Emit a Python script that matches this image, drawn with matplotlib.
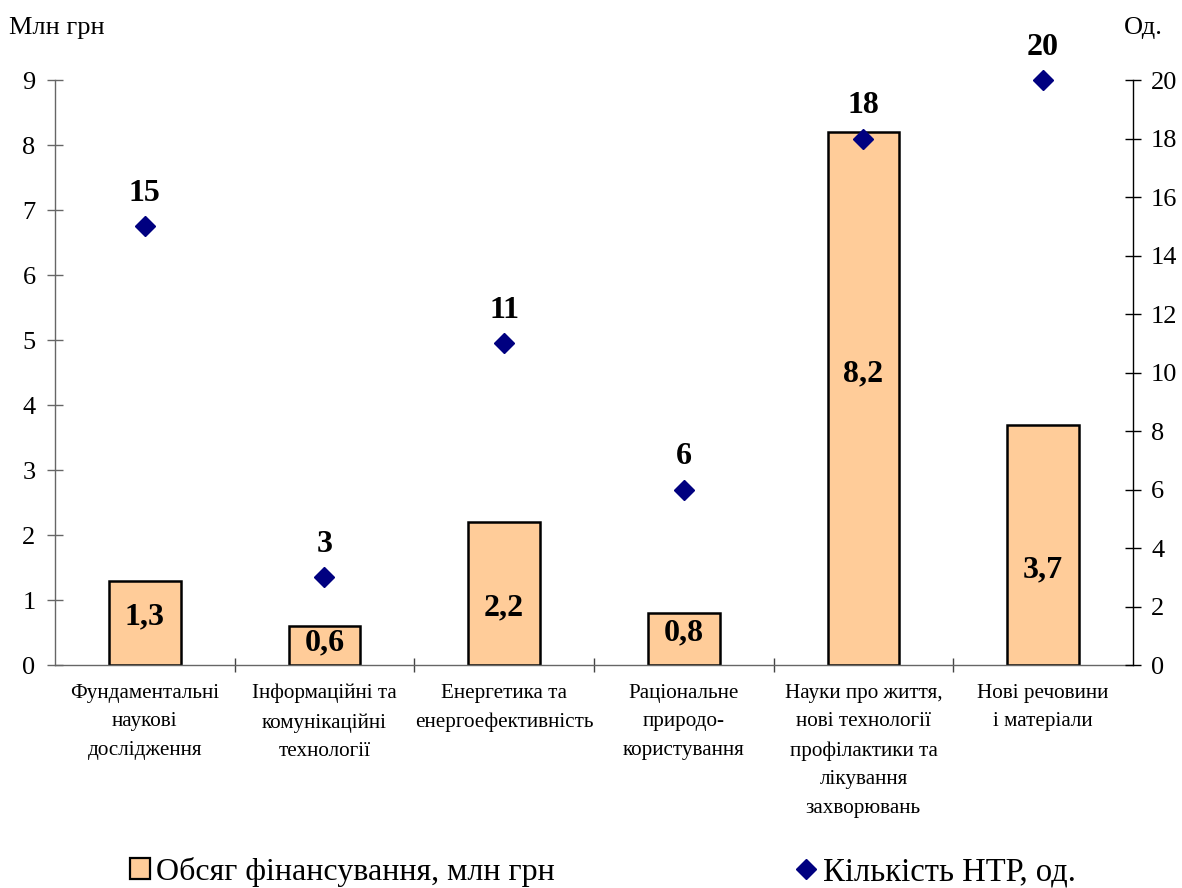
import matplotlib
matplotlib.use("Agg")
import matplotlib.pyplot as plt
from matplotlib.lines import Line2D
from matplotlib.patches import Patch

categories = [
    "Фундаментальні\nнаукові\nдослідження",
    "Інформаційні та\nкомунікаційні\nтехнології",
    "Енергетика та\nенергоефективність",
    "Раціональне\nприродо-\nкористування",
    "Науки про життя,\nнові технології\nпрофілактики та\nлікування\nзахворювань",
    "Нові речовини\nі матеріали",
]
funding = [1.3, 0.6, 2.2, 0.8, 8.2, 3.7]
funding_labels = ["1,3", "0,6", "2,2", "0,8", "8,2", "3,7"]
ntr_count = [15, 3, 11, 6, 18, 20]

# layout: vertical position of the in-bar labels (left-axis units)
bar_label_y = [0.74, 0.34, 0.88, 0.49, 4.48, 1.46]

plt.rcParams['font.family'] = ['Liberation Serif', 'DejaVu Serif']

fig = plt.figure(figsize=(11.82, 8.88), dpi=100)
ax = fig.add_axes([0.0465, 0.2511, 0.912, 0.6588])
ax2 = ax.twinx()

x = list(range(len(categories)))
ax.bar(x, funding, width=0.4, color="#FFCC99", edgecolor="black", linewidth=1.8, zorder=2)
for xi, ly, lab in zip(x, bar_label_y, funding_labels):
    ax.text(xi, ly, lab, ha="center", va="center", fontsize=23, fontweight="bold")

ax2.plot(x, ntr_count, linestyle="none", marker="D", markersize=10.5,
         color="#000080", zorder=3, clip_on=False)
for xi, v in zip(x, ntr_count):
    ax2.annotate(str(v), (xi, v), xytext=(0, 23.5), textcoords="offset points",
                 ha="center", va="center", fontsize=23, fontweight="bold")

ax.set_xlim(-0.5, 5.5)
ax.set_ylim(0, 9)
ax2.set_ylim(0, 20)
ax.set_yticks(range(0, 10))
ax2.set_yticks(range(0, 21, 2))

for a in (ax, ax2):
    a.spines['top'].set_visible(False)
    for s in a.spines.values():
        s.set_color("#666666")
        s.set_linewidth(1.0)
ax2.spines['left'].set_visible(False)
ax.spines['right'].set_visible(False)
ax2.spines['bottom'].set_visible(False)
ax2.spines['right'].set_color("black")

ax.tick_params(axis="y", direction="inout", length=12, width=1.0, labelsize=19,
               pad=8, color="#666666")
ax2.tick_params(axis="y", direction="inout", length=12, width=1.0, labelsize=19, pad=7)

# x ticks at category boundaries, labels at centers
ax.set_xticks([i + 0.5 for i in range(len(categories) - 1)])
ax.set_xticklabels([])
ax.set_xticks(x, minor=True)
ax.set_xticklabels(categories, minor=True, fontsize=15.2, linespacing=1.68)
ax.tick_params(axis="x", which="major", direction="inout", length=10, width=1.0,
               color="#444444")
ax.tick_params(axis="x", which="minor", length=0, pad=13.5)

fig.text(0.008, 0.9685, "Млн грн", fontsize=19, ha="left", va="center")
fig.text(0.951, 0.9685, "Од.", fontsize=19, ha="left", va="center")

h1 = Patch(facecolor="#FFCC99", edgecolor="black", linewidth=1.6, label="Обсяг фінансування, млн грн")
h2 = Line2D([], [], linestyle="none", marker="D", markersize=10.5, color="#000080",
            label="Кількість НТР, од.")
fig.legend(handles=[h1], loc="center left", bbox_to_anchor=(0.110, 0.018),
           frameon=False, fontsize=23, handlelength=0.62, handleheight=0.62,
           handletextpad=0.2, borderpad=0, borderaxespad=0)
fig.legend(handles=[h2], loc="center left", bbox_to_anchor=(0.6735, 0.018),
           frameon=False, fontsize=23.5, handlelength=0.62, handleheight=0.62,
           handletextpad=0.2, borderpad=0, borderaxespad=0)

fig.savefig("out.png", dpi=100)
